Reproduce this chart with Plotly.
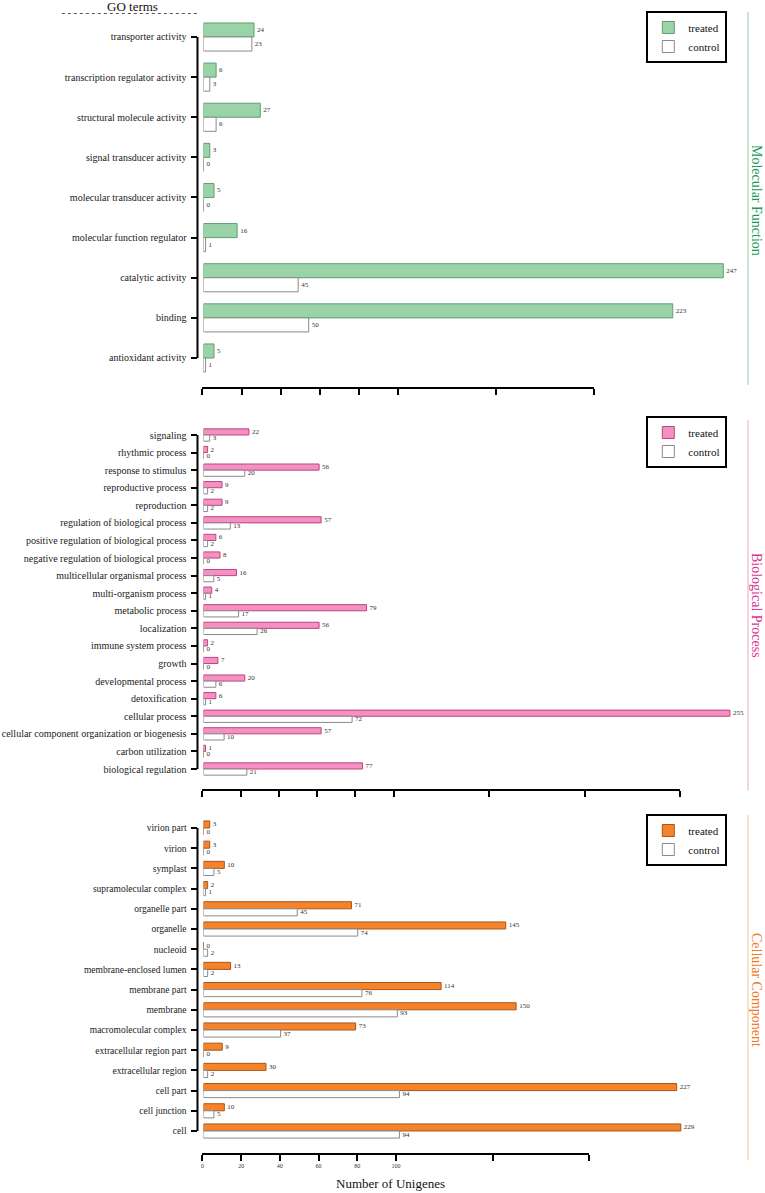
import plotly.graph_objects as go

W, H = 765, 1193
FONT = "Liberation Serif"

# ---------------- data ----------------
mf_terms = ["antioxidant activity", "binding", "catalytic activity", "molecular function regulator",
            "molecular transducer activity", "signal transducer activity", "structural molecule activity",
            "transcription regulator activity", "transporter activity"]
mf_treated = [5, 223, 247, 16, 5, 3, 27, 6, 24]
mf_control = [1, 50, 45, 1, 0, 0, 6, 3, 23]

bp_terms = ["biological regulation", "carbon utilization", "cellular component organization or biogenesis",
            "cellular process", "detoxification", "developmental process", "growth", "immune system process",
            "localization", "metabolic process", "multi-organism process", "multicellular organismal process",
            "negative regulation of biological process", "positive regulation of biological process",
            "regulation of biological process", "reproduction", "reproductive process", "response to stimulus",
            "rhythmic process", "signaling"]
bp_treated = [77, 1, 57, 255, 6, 20, 7, 2, 56, 79, 4, 16, 8, 6, 57, 9, 9, 56, 2, 22]
bp_control = [21, 0, 10, 72, 1, 6, 0, 0, 26, 17, 1, 5, 0, 2, 13, 2, 2, 20, 0, 3]

cc_terms = ["cell", "cell junction", "cell part", "extracellular region", "extracellular region part",
            "macromolecular complex", "membrane", "membrane part", "membrane-enclosed lumen", "nucleoid",
            "organelle", "organelle part", "supramolecular complex", "symplast", "virion", "virion part"]
cc_treated = [229, 10, 227, 30, 9, 73, 150, 114, 13, 0, 145, 71, 2, 10, 3, 3]
cc_control = [94, 5, 94, 2, 0, 37, 93, 76, 2, 2, 74, 45, 1, 5, 0, 0]

axis_ticks_short = [0, 20, 40, 60, 80, 100, 150, 200]
axis_ticks_long = [0, 20, 40, 60, 80, 100, 150, 200, 250]
cc_tick_labels = ["0", "20", "40", "60", "80", "100", "", ""]

series_names = ["treated", "control"]
panel_titles = ["Molecular Function", "Biological Process", "Cellular Component"]


def px(x):
    return x / W


def py(y):
    return 1 - y / H


panels = [
    dict(terms=mf_terms, tr=mf_treated, ct=mf_control, ybot=358, ytop=37, scale=2.11, lab=10,
         fill="#9ad3a8", edge="#5f9e72", title_color="#1e9a58", line_color="#8fcfae",
         axis_y=387, axis_end=594, ticks=axis_ticks_short, ticktext=None,
         side=(12, 385), title_y=200, legend_y=11),
    dict(terms=bp_terms, tr=bp_treated, ct=bp_control, ybot=769, ytop=435, scale=2.07, lab=10,
         fill="#f591c2", edge="#b9467f", title_color="#d9368f", line_color="#f2a4ca",
         axis_y=789, axis_end=680, ticks=axis_ticks_long, ticktext=None,
         side=(420, 790), title_y=605, legend_y=416),
    dict(terms=cc_terms, tr=cc_treated, ct=cc_control, ybot=1131, ytop=828, scale=2.09, lab=9.5,
         fill="#f5832b", edge="#a9561a", title_color="#f07a26", line_color="#f7c39b",
         axis_y=1153, axis_end=589, ticks=axis_ticks_short, ticktext=cc_tick_labels,
         side=(815, 1160), title_y=990, legend_y=814),
]

fig = go.Figure()
layout = dict(width=W, height=H, margin=dict(l=0, r=0, t=0, b=0),
              paper_bgcolor="white", plot_bgcolor="rgba(0,0,0,0)",
              barmode="overlay", font=dict(family=FONT, color="#222"),
              shapes=[], annotations=[])

X0, X1 = 202, 740
BW = 0.35
for i, p in enumerate(panels):
    n = i * 2 + 1
    xa = "x" if n == 1 else f"x{n}"
    ya = "y" if n == 1 else f"y{n}"
    xa_d = f"x{n + 1}"
    ya_d = f"y{n + 1}"
    leg = "legend" if i == 0 else f"legend{i + 1}"
    txt_font = dict(family=FONT, size=7, color="#333")
    fig.add_trace(go.Bar(
        y=p["terms"], x=p["tr"], orientation="h", name=series_names[0],
        offset=0, width=BW, xaxis=xa, yaxis=ya, legend=leg,
        marker=dict(color=p["fill"], line=dict(color=p["edge"], width=1)),
        text=[str(v) for v in p["tr"]], textposition="outside", textfont=txt_font,
        cliponaxis=False, constraintext="none"))
    fig.add_trace(go.Bar(
        y=p["terms"], x=p["ct"], orientation="h", name=series_names[1],
        offset=-BW, width=BW, xaxis=xa, yaxis=ya, legend=leg,
        marker=dict(color="white", line=dict(color="#8a8a8a", width=1)),
        text=[str(v) for v in p["ct"]], textposition="outside", textfont=txt_font,
        cliponaxis=False, constraintext="none"))
    # carrier for the decorative (broken-scale) x axis
    fig.add_trace(go.Scatter(x=[], y=[], xaxis=xa_d, yaxis=ya_d, showlegend=False, hoverinfo="skip"))

    nterm = len(p["terms"])
    sp = (p["ybot"] - p["ytop"]) / (nterm - 1)
    xkey = "xaxis" if n == 1 else f"xaxis{n}"
    ykey = "yaxis" if n == 1 else f"yaxis{n}"
    layout[xkey] = dict(domain=[px(X0), px(X1)], range=[0, (X1 - X0) / p["scale"]],
                        anchor=ya, visible=False, fixedrange=True)
    layout[ykey] = dict(domain=[py(p["ybot"] + sp / 2), py(p["ytop"] - sp / 2)],
                        range=[-0.5, nterm - 0.5],
                        type="category", categoryorder="array", categoryarray=p["terms"],
                        anchor="free", position=px(196), showline=False,
                        ticks="outside", ticklen=6, tickwidth=2, tickcolor="black",
                        ticklabelstandoff=3,
                        tickfont=dict(family=FONT, size=p["lab"], color="#1a1a1a"),
                        showgrid=False, zeroline=False, fixedrange=True)
    # y axis spine running only from first to last category
    layout["shapes"].append(dict(type="line", xref="paper", yref=ya, x0=px(196), x1=px(196),
                                 y0=0, y1=nterm - 1, line=dict(color="black", width=2)))
    xt = p["ticks"]
    layout[f"xaxis{n + 1}"] = dict(domain=[px(201), px(p["axis_end"])], range=[0, xt[-1]],
                                   anchor=ya_d, showline=True, linecolor="black", linewidth=2,
                                   ticks="outside", ticklen=6, tickwidth=2, tickcolor="black",
                                   tickvals=xt,
                                   ticktext=p["ticktext"] if p["ticktext"] else [""] * len(xt),
                                   tickfont=dict(family=FONT, size=6, color="#333"),
                                   showgrid=False, zeroline=False, fixedrange=True)
    layout[f"yaxis{n + 1}"] = dict(domain=[py(p["axis_y"]), py(p["axis_y"] - 5)], visible=False,
                                   range=[0, 1], fixedrange=True)
    layout[leg] = dict(x=px(646), y=py(p["legend_y"]), xanchor="left", yanchor="top",
                       bordercolor="black", borderwidth=2, bgcolor="white",
                       font=dict(family=FONT, size=11, color="#111"), itemwidth=30,
                       tracegroupgap=0)
    layout["shapes"].append(dict(type="line", xref="paper", yref="paper",
                                 x0=px(748), x1=px(748), y0=py(p["side"][0]), y1=py(p["side"][1]),
                                 line=dict(color=p["line_color"], width=1)))
    layout["annotations"].append(dict(text=panel_titles[i], xref="paper", yref="paper",
                                      x=px(757), y=py(p["title_y"]), textangle=90, showarrow=False,
                                      font=dict(family=FONT, size=14, color=p["title_color"]),
                                      xanchor="center", yanchor="middle"))

layout["annotations"].append(dict(text="GO terms", xref="paper", yref="paper", x=px(131), y=py(6),
                                  showarrow=False, font=dict(family=FONT, size=13, color="#111"),
                                  xanchor="center", yanchor="middle"))
layout["annotations"].append(dict(text="Number of Unigenes", xref="paper", yref="paper", x=px(390),
                                  y=py(1183), showarrow=False,
                                  font=dict(family=FONT, size=13, color="#111"),
                                  xanchor="center", yanchor="middle"))
layout["shapes"].append(dict(type="line", xref="paper", yref="paper", x0=px(60), x1=px(196),
                             y0=py(13.5), y1=py(13.5), line=dict(color="#555", width=1, dash="dot")))

fig.update_layout(**layout)
fig.write_html("out.html", config={"displayModeBar": False},
               post_script="document.body.style.margin='0';document.body.style.overflow='hidden';")
